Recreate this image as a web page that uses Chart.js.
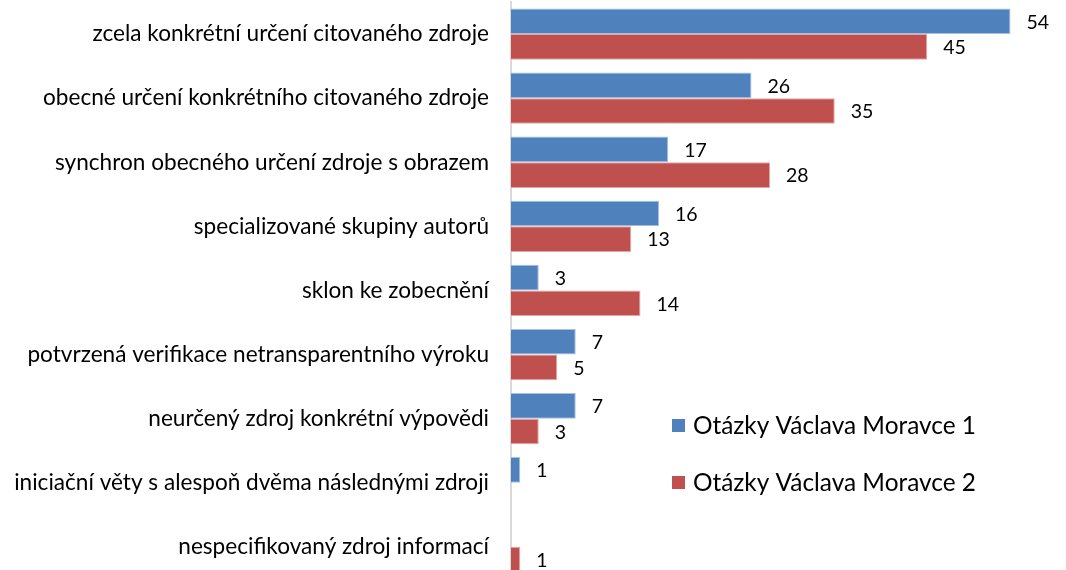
<!DOCTYPE html>
<html>
<head>
<meta charset="utf-8">
<script src="https://cdn.jsdelivr.net/npm/chart.js@4/dist/chart.umd.min.js"></script>
<style>
    html, body { margin: 0; padding: 0; background: #fff; overflow: hidden; }
    #wrap { width: 1066px; height: 580px; }
</style>
</head>
<body>
<div id="wrap"><canvas id="barChart" width="1066" height="580"></canvas></div>
<script>
const categories = [
    'zcela konkrétní určení citovaného zdroje',
    'obecné určení konkrétního citovaného zdroje',
    'synchron obecného určení zdroje s obrazem',
    'specializované skupiny autorů',
    'sklon ke zobecnění',
    'potvrzená verifikace netransparentního výroku',
    'neurčený zdroj konkrétní výpovědi',
    'iniciační věty s alespoň dvěma následnými zdroji',
    'nespecifikovaný zdroj informací'
];
const seriesNames = ['Otázky Václava Moravce 1', 'Otázky Václava Moravce 2'];
const series1 = [54, 26, 17, 16, 3, 7, 7, 1, null];
const series2 = [45, 35, 28, 13, 14, 5, 3, null, 1];

const FONT = "Lato, 'Open Sans', sans-serif";

// value labels next to each bar
const valueLabels = {
    id: 'valueLabels',
    afterDatasetsDraw(chart) {
        const ctx = chart.ctx;
        ctx.save();
        ctx.font = `19.5px ${FONT}`;
        ctx.fillStyle = '#000';
        ctx.textBaseline = 'middle';
        ctx.textAlign = 'left';
        chart.data.datasets.forEach((ds, i) => {
            chart.getDatasetMeta(i).data.forEach((bar, j) => {
                if (ds.data[j] == null) return;
                ctx.fillText(ds.data[j], bar.x + 16, bar.y + 1);
            });
        });
        ctx.restore();
    }
};

// legend drawn inside the plot, lower right
const sideLegend = {
    id: 'sideLegend',
    afterDraw(chart) {
        const ctx = chart.ctx;
        ctx.save();
        ctx.font = `24.4px ${FONT}`;
        ctx.textBaseline = 'middle';
        const ys = [426, 483];
        chart.data.datasets.forEach((ds, i) => {
            ctx.fillStyle = ds.backgroundColor;
            ctx.fillRect(672, ys[i] - 7, 13, 13);
            ctx.fillStyle = '#000';
            ctx.fillText(ds.label, 693, ys[i]);
        });
        ctx.restore();
    }
};

new Chart(document.getElementById('barChart'), {
    type: 'bar',
    data: {
        labels: categories,
        datasets: [{
            label: seriesNames[0],
            data: series1,
            backgroundColor: '#4f81bd',
            borderColor: '#a7c0de',
            borderWidth: 1
        }, {
            label: seriesNames[1],
            data: series2,
            backgroundColor: '#c0504d',
            borderColor: '#e0a8a6',
            borderWidth: 1
        }]
    },
    options: {
        indexAxis: 'y',
        responsive: false,
        animation: false,
        devicePixelRatio: 1,
        categoryPercentage: 0.8,
        barPercentage: 1,
        layout: { padding: { top: 2, bottom: 0, left: 0, right: 0 } },
        scales: {
            x: {
                display: false,
                min: 0,
                max: 60
            },
            y: {
                grid: { display: false, drawTicks: true, tickLength: 22 },
                border: { display: true, color: '#d9d9d9', width: 2 },
                ticks: {
                    color: '#000',
                    font: { family: FONT, size: 22.6, lineHeight: 0.1 },
                    padding: 0
                },
                afterFit(scale) { scale.width = 511; }
            }
        },
        plugins: {
            legend: { display: false },
            tooltip: { enabled: false }
        }
    },
    plugins: [valueLabels, sideLegend]
});
</script>
</body>
</html>
